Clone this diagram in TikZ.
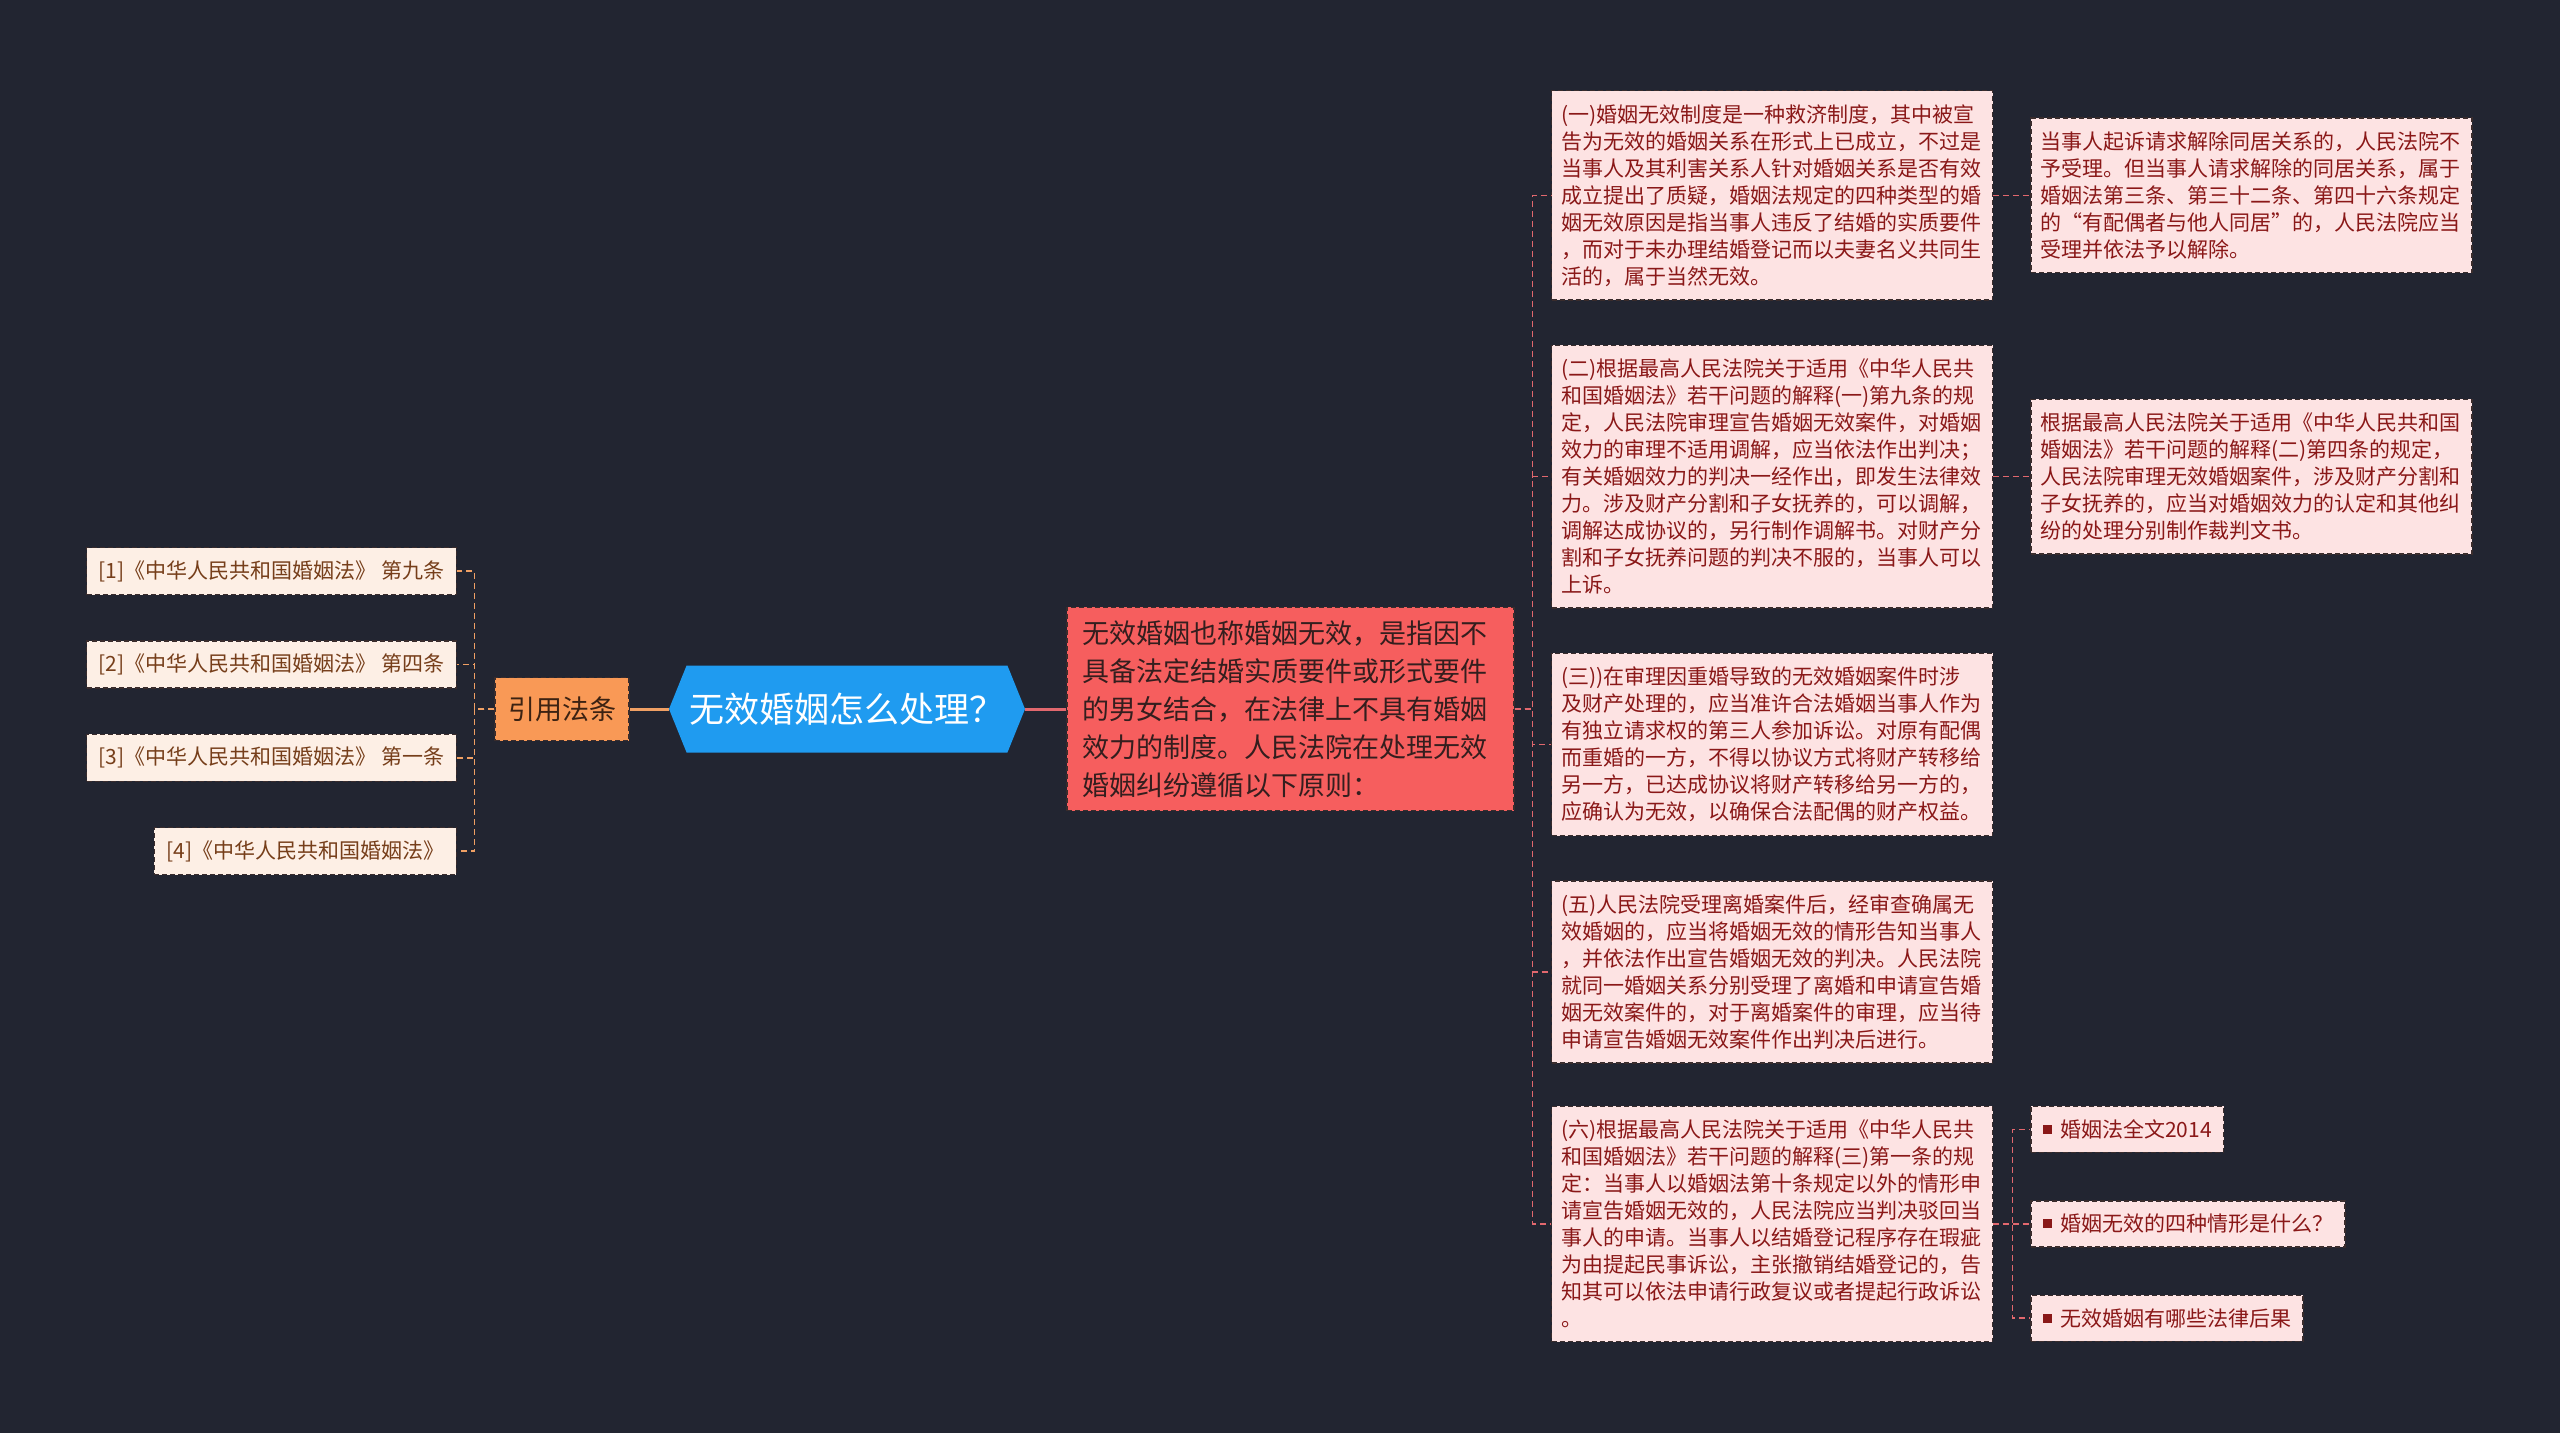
\documentclass[tikz,border=0pt]{standalone}
\usepackage{fontspec}
\setmainfont{Noto Sans CJK SC}
\definecolor{mapBg}{RGB}{34,37,49}
\definecolor{mapRoot}{RGB}{31,155,240}
\definecolor{mapEdge}{RGB}{58,44,44}
\definecolor{mapCite}{RGB}{249,153,86}
\definecolor{mapCiteText}{RGB}{60,34,18}
\definecolor{mapLeaf}{RGB}{253,239,229}
\definecolor{mapLeafText}{RGB}{118,62,26}
\definecolor{mapRed}{RGB}{246,94,94}
\definecolor{mapRedText}{RGB}{52,30,30}
\definecolor{mapPink}{RGB}{253,227,227}
\definecolor{mapPinkText}{RGB}{138,24,24}
\definecolor{mapOrangeLine}{RGB}{240,160,100}
\definecolor{mapRedLine}{RGB}{226,104,110}
\newcommand{\sqbullet}{\textcolor{mapPinkText}{\rule[3.5pt]{9pt}{9pt}}\hspace{8pt}}
\usetikzlibrary{positioning, shapes.symbols}

\begin{document}
\begin{tikzpicture}[
  x=1pt, y=-1pt, node distance=44pt,
  boxline/.style={draw=mapEdge, dash pattern=on 5pt off 3pt, line width=1.4pt},
  rootnode/.style={signal, signal to=west and east, signal pointer angle=136, fill=mapRoot,
               text=white, minimum width=356pt, minimum height=87pt, inner sep=0pt,
               font=\fontsize{35}{40}\selectfont},
  citebox/.style={boxline, fill=mapCite, text=mapCiteText, minimum height=63pt,
               inner xsep=13pt, font=\fontsize{27}{32}\selectfont},
  leaf/.style={boxline, fill=mapLeaf, text=mapLeafText, minimum height=47pt,
               inner xsep=12pt, font=\fontsize{21}{27}\selectfont},
  summary/.style={boxline, fill=mapRed, text=mapRedText, text width=415pt, align=left,
               inner xsep=16pt, inner ysep=13pt, font=\fontsize{27}{38}\selectfont},
  rulebox/.style={boxline, fill=mapPink, text=mapPinkText, text width=422pt, align=left,
               inner xsep=9.5pt, inner ysep=13.6pt, font=\fontsize{21}{27}\selectfont},
  linkbox/.style={boxline, fill=mapPink, text=mapPinkText, minimum height=46pt,
               inner xsep=12pt, font=\fontsize{21}{27}\selectfont},
  trunk/.style={line width=3pt},
  twig/.style={line width=1.6pt, dash pattern=on 6pt off 4pt}]
  \fill[mapBg] (0,0) rectangle (2560,1433);
  \useasboundingbox (0,0) rectangle (2560,1433);

  \node[rootnode] (root) at (847,709) {无效婚姻怎么处理？};
  \node[citebox, left=39pt of root] (cite) {引用法条};
  \node[summary, right=41pt of root] (sum) {无效婚姻也称婚姻无效，是指因不\\具备法定结婚实质要件或形式要件\\的男女结合，在法律上不具有婚姻\\效力的制度。人民法院在处理无效\\婚姻纠纷遵循以下原则：};

  % cited articles
  \node[leaf, anchor=east] (l1) at (457,571) {[1]《中华人民共和国婚姻法》 第九条};
  \node[leaf, below=45pt of l1.south east, anchor=north east] (l2) {[2]《中华人民共和国婚姻法》 第四条};
  \node[leaf, below=45pt of l2.south east, anchor=north east] (l3) {[3]《中华人民共和国婚姻法》 第一条};
  \node[leaf, below=45pt of l3.south east, anchor=north east] (l4) {[4]《中华人民共和国婚姻法》};

  % principles
  \node[rulebox, anchor=north west] (p1) at (1551,90) {(一)婚姻无效制度是一种救济制度，其中被宣\\告为无效的婚姻关系在形式上已成立，不过是\\当事人及其利害关系人针对婚姻关系是否有效\\成立提出了质疑，婚姻法规定的四种类型的婚\\姻无效原因是指当事人违反了结婚的实质要件\\，而对于未办理结婚登记而以夫妻名义共同生\\活的，属于当然无效。};
  \node[rulebox, below=of p1] (p2) {(二)根据最高人民法院关于适用《中华人民共\\和国婚姻法》若干问题的解释(一)第九条的规\\定，人民法院审理宣告婚姻无效案件，对婚姻\\效力的审理不适用调解，应当依法作出判决；\\有关婚姻效力的判决一经作出，即发生法律效\\力。涉及财产分割和子女抚养的，可以调解，\\调解达成协议的，另行制作调解书。对财产分\\割和子女抚养问题的判决不服的，当事人可以\\上诉。};
  \node[rulebox, below=of p2] (p3) {(三))在审理因重婚导致的无效婚姻案件时涉\\及财产处理的，应当准许合法婚姻当事人作为\\有独立请求权的第三人参加诉讼。对原有配偶\\而重婚的一方，不得以协议方式将财产转移给\\另一方，已达成协议将财产转移给另一方的，\\应确认为无效，以确保合法配偶的财产权益。};
  \node[rulebox, below=of p3] (p5) {(五)人民法院受理离婚案件后，经审查确属无\\效婚姻的，应当将婚姻无效的情形告知当事人\\，并依法作出宣告婚姻无效的判决。人民法院\\就同一婚姻关系分别受理了离婚和申请宣告婚\\姻无效案件的，对于离婚案件的审理，应当待\\申请宣告婚姻无效案件作出判决后进行。};
  \node[rulebox, below=42pt of p5] (p6) {(六)根据最高人民法院关于适用《中华人民共\\和国婚姻法》若干问题的解释(三)第一条的规\\定：当事人以婚姻法第十条规定以外的情形申\\请宣告婚姻无效的，人民法院应当判决驳回当\\事人的申请。当事人以结婚登记程序存在瑕疵\\为由提起民事诉讼，主张撤销结婚登记的，告\\知其可以依法申请行政复议或者提起行政诉讼\\。};

  % notes and links
  \node[rulebox, right=37pt of p1] (q1) {当事人起诉请求解除同居关系的，人民法院不\\予受理。但当事人请求解除的同居关系，属于\\婚姻法第三条、第三十二条、第四十六条规定\\的“有配偶者与他人同居”的，人民法院应当\\受理并依法予以解除。};
  \node[rulebox, right=37pt of p2] (q2) {根据最高人民法院关于适用《中华人民共和国\\婚姻法》若干问题的解释(二)第四条的规定，\\人民法院审理无效婚姻案件，涉及财产分割和\\子女抚养的，应当对婚姻效力的认定和其他纠\\纷的处理分别制作裁判文书。};
  \node[linkbox, right=37pt of p6] (k2) {\sqbullet 婚姻无效的四种情形是什么？};
  \node[linkbox, above=47pt of k2.north west, anchor=south west] (k1) {\sqbullet 婚姻法全文2014};
  \node[linkbox, below=47pt of k2.south west, anchor=north west] (k3) {\sqbullet 无效婚姻有哪些法律后果};

  \draw[trunk, mapOrangeLine] (root.west) -- (cite.east);
  \draw[trunk, mapRedLine] (root.east) -- (sum.west);

  \draw[twig, mapOrangeLine] (cite.west) -- ++(-20pt,0) |- (l1.east);
  \draw[twig, mapOrangeLine] (cite.west) -- ++(-20pt,0) |- (l2.east);
  \draw[twig, mapOrangeLine] (cite.west) -- ++(-20pt,0) |- (l3.east);
  \draw[twig, mapOrangeLine] (cite.west) -- ++(-20pt,0) |- (l4.east);

  \draw[twig, mapRedLine] (sum.east) -- ++(18pt,0) |- (p1.west);
  \draw[twig, mapRedLine] (sum.east) -- ++(18pt,0) |- (p2.west);
  \draw[twig, mapRedLine] (sum.east) -- ++(18pt,0) |- (p3.west);
  \draw[twig, mapRedLine] (sum.east) -- ++(18pt,0) |- (p5.west);
  \draw[twig, mapRedLine] (sum.east) -- ++(18pt,0) |- (p6.west);

  \draw[twig, mapRedLine] (p1.east) -- (q1.west);
  \draw[twig, mapRedLine] (p2.east) -- (q2.west);
  \draw[twig, mapRedLine] (p6.east) -- ++(19pt,0) |- (k1.west);
  \draw[twig, mapRedLine] (p6.east) -- ++(19pt,0) |- (k2.west);
  \draw[twig, mapRedLine] (p6.east) -- ++(19pt,0) |- (k3.west);
\end{tikzpicture}
\end{document}
